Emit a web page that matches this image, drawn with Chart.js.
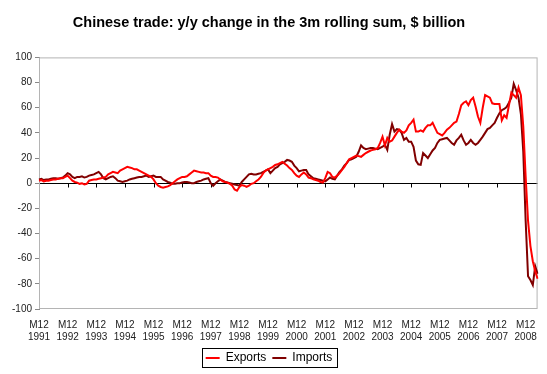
<!DOCTYPE html>
<html>
<head>
<meta charset="utf-8">
<script src="https://cdn.jsdelivr.net/npm/chart.js@4.4.0/dist/chart.umd.min.js"></script>
<style>
  html, body { margin: 0; padding: 0; background: #fff; }
  #wrap { width: 547px; height: 374px; }
</style>
</head>
<body>
<div id="wrap"><canvas id="chart" width="547" height="374"></canvas></div>
<script>
// --- Data (monthly, first point = M12 1991) ---
const yearLabels = ['1991', '1992', '1993', '1994', '1995', '1996', '1997', '1998', '1999',
  '2000', '2001', '2002', '2003', '2004', '2005', '2006', '2007', '2008'];

const yTicks = [-100, -80, -60, -40, -20, 0, 20, 40, 60, 80, 100];

const exportsData = [
  2, 2.5, 1.5, 2, 2, 2.5, 3, 3, 3.5, 4, 4, 5,
  6, 4, 2, 1, 0.5, -0.5, 0, -1, -0.5, 2, 2.5, 3,
  3, 3.5, 4, 4.5, 5, 7, 8, 9, 8.5, 8, 10, 11,
  12, 13, 12.5, 12, 11, 11, 10, 9, 8, 7, 6, 5,
  3, 0, -2, -3, -3.5, -3, -2.5, -1.5, 0, 1.5, 3, 4,
  5, 5, 5.5, 7, 8.5, 10, 9.5, 9, 8.5, 8.5, 8, 8,
  6, 5, 5, 4.5, 3, 1.5, 1, 0.5, -0.5, -2, -5, -6,
  -3, -1.5, -2, -3, -2, -0.5, 0, 1.5, 3, 5, 8, 10,
  11, 12, 13, 14.5, 15, 16, 17, 15.5, 14, 12, 10.5, 8,
  6, 5, 7, 8.5, 7, 4.5, 4, 3, 2.5, 2, 1, 0.5,
  4, 9, 8, 5, 4.5, 6, 8, 10.5, 13, 16, 19, 20,
  21, 22, 21.5, 21, 22.5, 24, 25, 26, 26.5, 27, 28, 32,
  37, 30, 36, 33, 34, 37, 40, 42.5, 41, 40, 42, 46,
  48, 50.5, 41, 41, 42, 41, 44, 46, 46, 48, 44, 40,
  39, 38, 40, 42.5, 44, 46, 48, 49, 55, 62, 64, 65,
  62, 66, 68, 61, 53, 48, 60, 70, 69, 68, 63.5, 63,
  63, 63, 50, 54, 52, 62, 72, 70, 68, 76, 70, 45,
  5, -30, -50, -62, -70, -76
];

const importsData = [
  3, 3.5, 2.5, 3, 3, 3.5, 4, 4, 3.5, 4, 4.5, 6,
  8, 7, 5, 4, 5, 5, 5.5, 4.5, 5, 6, 6.5, 7,
  8, 9, 7, 4, 3, 4, 5, 5.5, 4, 2, 1.5, 1,
  1.5, 2, 3, 3.5, 4, 4.5, 5, 5, 5.5, 6, 5, 5.5,
  6, 5, 5, 5, 3, 2, 1, 0.5, -0.5, -0.5, 0, 0,
  0.5, 1, 1, 0.5, 0, 0, 1, 1.5, 2, 3, 3.5, 4,
  0, -2, 0, 1.5, 3, 2, 1, 0.5, 0, -0.5, -1, -1.5,
  -2, 1, 3, 5, 7, 7.5, 7, 7, 7.5, 8, 9, 10,
  11, 8, 10, 12, 13, 15, 16, 17, 18.5, 18, 17, 14,
  12, 9.5, 10, 10.5, 10.5, 7, 5.5, 4, 3.5, 3, 2.5, 2,
  1.5, 3, 4.5, 3.5, 3, 6, 9, 11, 14, 16, 18.5, 19,
  20, 21, 25, 30, 28, 27, 27.5, 28, 28, 27.5, 27, 28,
  29, 30.5, 26.5, 38.5, 47, 41, 43, 42.5, 40, 34.5, 36, 33,
  33, 29, 18, 15, 14.6, 24, 22, 20, 23, 26, 28, 32,
  34.5, 35, 35.5, 36, 34, 32, 30.5, 34, 36, 38.5, 34, 30.5,
  32, 34.5, 32, 30.5, 32, 34.5, 37, 40, 43, 44, 46, 48,
  52, 55.5, 58, 59, 60.5, 64, 68, 79, 74, 68, 55, 25,
  -30, -74, -77, -81, -66, -72
];

// one category per month, label only every 12th (M12 of each year)
const monthLabels = exportsData.map((_, i) => i);

const chartFrame = {
  id: 'chartFrame',
  beforeDatasetsDraw(chart) {
    const { ctx, chartArea: a, scales: { x, y } } = chart;
    ctx.save();
    ctx.strokeStyle = '#b4b4b4';
    ctx.lineWidth = 1;
    ctx.strokeRect(a.left + 0.5, a.top + 0.5, a.width - 1, a.height - 1);
    // tick marks hanging from the zero line
    const y0 = Math.round(y.getPixelForValue(0)) + 0.5;
    ctx.strokeStyle = '#000';
    ctx.beginPath();
    for (let i = 12; i < monthLabels.length; i += 12) {
      const px = Math.round(x.getPixelForValue(i)) + 0.5;
      ctx.moveTo(px, y0);
      ctx.lineTo(px, y0 + 4);
    }
    ctx.stroke();
    ctx.restore();
  },
  afterDraw(chart) {
    const boxes = chart.legend.legendHitBoxes;
    if (!boxes || !boxes.length) return;
    const first = boxes[0], last = boxes[boxes.length - 1];
    const ctx = chart.ctx;
    ctx.save();
    ctx.strokeStyle = '#000';
    ctx.lineWidth = 1;
    const left = Math.round(first.left - 4) + 0.5;
    const right = Math.round(last.left + last.width + 5) + 0.5;
    const top = Math.round(first.top - 4) + 0.5;
    const bottom = Math.round(first.top + first.height + 3) + 0.5;
    ctx.strokeRect(left, top, right - left, bottom - top);
    ctx.restore();
  },
};

Chart.defaults.font.family = '"Liberation Sans", Arial, sans-serif';
Chart.defaults.color = '#222';

new Chart(document.getElementById('chart').getContext('2d'), {
  type: 'line',
  data: {
    labels: monthLabels,
    datasets: [
      { label: 'Exports', data: exportsData, borderColor: '#ff0000', backgroundColor: '#ff0000', borderWidth: 2 },
      { label: 'Imports', data: importsData, borderColor: '#800000', backgroundColor: '#800000', borderWidth: 2 },
    ],
  },
  options: {
    responsive: false,
    animation: false,
    devicePixelRatio: 1,
    layout: { padding: { left: 0, right: 9, top: 0, bottom: 0 } },
    elements: { point: { radius: 0 }, line: { tension: 0 } },
    scales: {
      x: {
        type: 'category',
        offset: false,
        grid: { display: false, drawTicks: false },
        border: { display: false },
        afterFit: (scale) => { scale.height = 37; },
        ticks: {
          autoSkip: false,
          maxRotation: 0,
          minRotation: 0,
          padding: 10,
          color: '#222',
          font: { size: 10 },
          callback: (val, i) => (i % 12 === 0 ? ['M12', yearLabels[i / 12]] : null),
        },
      },
      y: {
        min: -100,
        max: 100,
        afterFit: (scale) => { scale.width = 39; },
        afterBuildTicks: (scale) => { scale.ticks = yTicks.map(v => ({ value: v })); },
        border: { display: true, color: '#888', width: 1 },
        grid: {
          drawOnChartArea: true,
          color: (c) => (c.tick && c.tick.value === 0 ? '#000' : 'rgba(0,0,0,0)'),
          tickColor: '#888',
          tickLength: 4,
        },
        ticks: { padding: 3, color: '#222', font: { size: 10 } },
      },
    },
    plugins: {
      title: {
        display: true,
        text: 'Chinese trade: y/y change in the 3m rolling sum, $ billion',
        color: '#000',
        font: { size: 14.5, weight: 'bold' },
        padding: { top: 14, bottom: 26 },
      },
      legend: {
        position: 'bottom',
        labels: {
          usePointStyle: true,
          pointStyle: 'line',
          pointStyleWidth: 14,
          boxWidth: 14,
          boxHeight: 2,
          padding: 6,
          color: '#000',
          font: { size: 12 },
        },
      },
      tooltip: { enabled: false },
    },
  },
  plugins: [chartFrame],
});
</script>
</body>
</html>
